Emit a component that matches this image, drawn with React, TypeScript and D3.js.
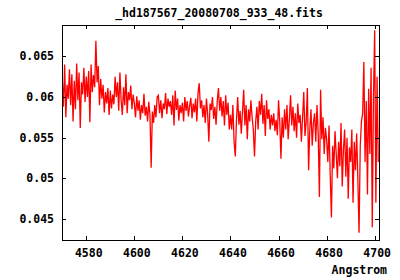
import React from "react";
import * as d3 from "d3";

const title = "_hd187567_20080708_933_48.fits";
const xLabel = "Angstrom";
const xTicks = [4580, 4600, 4620, 4640, 4660, 4680, 4700];
const yTicks = [0.045, 0.05, 0.055, 0.06, 0.065];
const yTickLabels = ["0.045", "0.05", "0.055", "0.06", "0.065"];
const xDomain = [4569.9, 4701.8];
const yDomain = [0.04242, 0.06885];

const waveStart = 4570;
const waveStep = 0.5;

const flux = [
  0.0622, 0.0588, 0.0640, 0.0575, 0.0615, 0.0598, 0.0634, 0.0590, 0.0628, 0.0570,
  0.0620, 0.0585, 0.0641, 0.0596, 0.0630, 0.0562, 0.0618, 0.0603, 0.0636, 0.0594,
  0.0625, 0.0600, 0.0632, 0.0569, 0.0640, 0.0606, 0.0627, 0.0612, 0.0669, 0.0618,
  0.0638, 0.0590, 0.0622, 0.0598, 0.0615, 0.0581, 0.0606, 0.0592, 0.0611, 0.0578,
  0.0608, 0.0586, 0.0603, 0.0591, 0.0625, 0.0600, 0.0618, 0.0583, 0.0630, 0.0596,
  0.0578, 0.0612, 0.0590, 0.0628, 0.0580, 0.0606, 0.0596, 0.0614, 0.0585, 0.0603,
  0.0592, 0.0575, 0.0601, 0.0583, 0.0596, 0.0572, 0.0590, 0.0580, 0.0604, 0.0577,
  0.0588, 0.0570, 0.0594, 0.0578, 0.0513, 0.0582, 0.0568, 0.0590, 0.0575, 0.0600,
  0.0602, 0.0580, 0.0596, 0.0574, 0.0592, 0.0585, 0.0605, 0.0579, 0.0598, 0.0588,
  0.0595, 0.0578, 0.0602, 0.0565, 0.0608, 0.0584, 0.0598, 0.0571, 0.0590, 0.0580,
  0.0593, 0.0570, 0.0600, 0.0583, 0.0595, 0.0576, 0.0589, 0.0599, 0.0574, 0.0592,
  0.0581, 0.0598, 0.0570, 0.0605, 0.0617, 0.0586, 0.0596, 0.0575, 0.0590, 0.0568,
  0.0598, 0.0579, 0.0545, 0.0592, 0.0584, 0.0600, 0.0573, 0.0588, 0.0566, 0.0595,
  0.0611, 0.0583, 0.0600, 0.0576, 0.0595, 0.0565, 0.0602, 0.0578, 0.0593, 0.0560,
  0.0578, 0.0560, 0.0590, 0.0545, 0.0527, 0.0572, 0.0600, 0.0566, 0.0583, 0.0555,
  0.0582, 0.0609, 0.0565, 0.0590, 0.0548, 0.0585, 0.0570, 0.0596, 0.0575, 0.0560,
  0.0527, 0.0570, 0.0588, 0.0560, 0.0595, 0.0578, 0.0604, 0.0567, 0.0590, 0.0552,
  0.0596, 0.0573, 0.0585, 0.0560, 0.0578, 0.0565, 0.0580, 0.0558, 0.0572, 0.0553,
  0.0596, 0.0570, 0.0524, 0.0575, 0.0550, 0.0585, 0.0560, 0.0590, 0.0548, 0.0572,
  0.0602, 0.0565, 0.0588, 0.0558, 0.0580, 0.0550, 0.0592, 0.0568, 0.0578, 0.0545,
  0.0575, 0.0606, 0.0552, 0.0570, 0.0611, 0.0510, 0.0560, 0.0585, 0.0540, 0.0568,
  0.0580, 0.0545, 0.0590, 0.0555, 0.0477, 0.0609, 0.0548, 0.0575, 0.0530, 0.0562,
  0.0548, 0.0520, 0.0565, 0.0505, 0.0452, 0.0540, 0.0512, 0.0558, 0.0530, 0.0500,
  0.0545, 0.0515, 0.0568, 0.0490, 0.0535, 0.0560, 0.0502, 0.0550, 0.0475, 0.0538,
  0.0520, 0.0560, 0.0470, 0.0545, 0.0510, 0.0555, 0.0498, 0.0433, 0.0540, 0.0570,
  0.0580, 0.0643, 0.0520, 0.0595, 0.0480, 0.0610, 0.0530, 0.0636, 0.0440, 0.0600,
  0.0682, 0.0470, 0.0625, 0.0520,
];

const W = 400;
const H = 280;
const margin = { left: 62, right: 21, top: 25, bottom: 40 };
const font = "'DejaVu Sans Mono', monospace";

export default function App() {
  const x = d3.scaleLinear().domain(xDomain).range([margin.left, W - margin.right]);
  const y = d3.scaleLinear().domain(yDomain).range([H - margin.bottom, margin.top]);
  const pts: [number, number][] = flux.map((v, i) => [waveStart + i * waveStep, v]);
  const line = d3
    .line<[number, number]>()
    .x((d) => x(d[0]))
    .y((d) => y(d[1]));
  const x0 = margin.left;
  const x1 = W - margin.right;
  const y0 = margin.top;
  const y1 = H - margin.bottom;
  const tl = 4;
  return (
    <svg
      width={W}
      height={H}
      style={{ position: "absolute", left: 0, top: 0, background: "#fff" }}
      fontFamily={font}
      fontWeight="bold"
    >
      <defs>
        <clipPath id="plotclip">
          <rect x={x0} y={y0} width={x1 - x0} height={y1 - y0} />
        </clipPath>
      </defs>
      <rect x={0} y={0} width={W} height={H} fill="#fff" />
      <text x={219} y={17} textAnchor="middle" fontSize={11.5}>
        {title}
      </text>
      <path
        d={line(pts) || ""}
        fill="none"
        stroke="#ff0000"
        strokeWidth={1.3}
        strokeLinejoin="miter"
        clipPath="url(#plotclip)"
      />
      <g stroke="#000" strokeWidth={1} shapeRendering="crispEdges">
        {xTicks.map((t) => (
          <g key={"xt" + t}>
            <line x1={Math.round(x(t)) + 0.5} x2={Math.round(x(t)) + 0.5} y1={y1} y2={y1 - tl} />
            <line x1={Math.round(x(t)) + 0.5} x2={Math.round(x(t)) + 0.5} y1={y0} y2={y0 + tl} />
          </g>
        ))}
        {yTicks.map((t) => (
          <g key={"yt" + t}>
            <line x1={x0} x2={x0 + tl} y1={Math.round(y(t)) + 0.5} y2={Math.round(y(t)) + 0.5} />
            <line x1={x1} x2={x1 - tl} y1={Math.round(y(t)) + 0.5} y2={Math.round(y(t)) + 0.5} />
          </g>
        ))}
        <rect x={x0 + 0.5} y={y0 + 0.5} width={x1 - x0} height={y1 - y0} fill="none" />
      </g>
      {xTicks.map((t) => (
        <text key={"xl" + t} x={x(t) + 2.5} y={257} textAnchor="middle" fontSize={11.5}>
          {t}
        </text>
      ))}
      {yTicks.map((t, i) => (
        <text key={"yl" + t} x={54} y={y(t) + 4} textAnchor="end" fontSize={11.5}>
          {yTickLabels[i]}
        </text>
      ))}
      <text x={387} y={274} textAnchor="end" fontSize={11.5}>
        {xLabel}
      </text>
    </svg>
  );
}
